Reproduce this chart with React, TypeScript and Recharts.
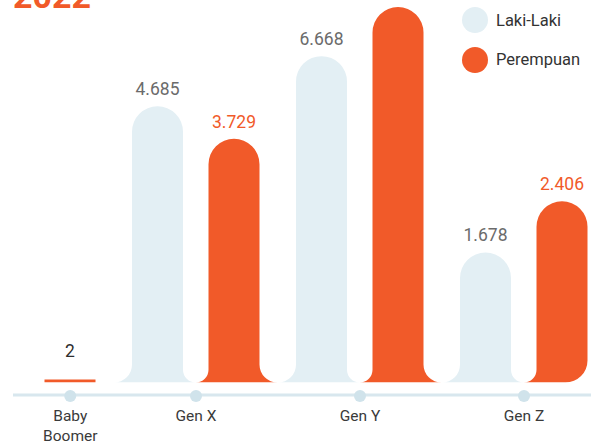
import React from 'react';
import { BarChart, Bar, XAxis, YAxis, Legend } from 'recharts';

// ---- data ----
const categories = ['Baby Boomer', 'Gen X', 'Gen Y', 'Gen Z'];
const lakiLaki: (number | null)[] = [null, 4685, 6668, 1678];
const perempuan: number[] = [2, 3729, 9420, 2406];
const seriesNames = ['Laki-Laki', 'Perempuan'];
const titleText = '2022';

const data = categories.map((c, i) => ({ name: c, laki: lakiLaki[i], per: perempuan[i] }));

// ---- styles ----
const BLUE = '#e3eff4';
const ORANGE = '#f15a29';
const AXIS = '#d8e7ee';
const DOT = '#d0e3eb';
const GREY_LABEL = '#6b6b6b';
const DARK = '#2e2e2e';
const FONT = 'Roboto, "Noto Sans", sans-serif';
const BAR_SIZE = 51;
const BAR_GAP = 25.5;
const INNER_FILLET = 12.75;
const OUTER_FILLET = 18;
const END_RADIUS = 22;
const MIN_H = 3;

const fmt = (v: number) => String(v).replace(/\B(?=(\d{3})+(?!\d))/g, '.');

type Side = { kind: 'flare' | 'round'; r: number };

function pillPath(xl: number, xr: number, top: number, b: number, left: Side, right: Side) {
  const r = (xr - xl) / 2;
  let d = '';
  if (left.kind === 'flare') {
    d += `M${xl - left.r},${b} A${left.r},${left.r} 0 0 0 ${xl},${b - left.r} `;
  } else {
    d += `M${xl + left.r},${b} A${left.r},${left.r} 0 0 1 ${xl},${b - left.r} `;
  }
  d += `L${xl},${top + r} A${r},${r} 0 0 1 ${xr},${top + r} `;
  if (right.kind === 'flare') {
    d += `L${xr},${b - right.r} A${right.r},${right.r} 0 0 0 ${xr + right.r},${b} `;
  } else {
    d += `L${xr},${b - right.r} A${right.r},${right.r} 0 0 1 ${xr - right.r},${b} `;
  }
  return d + 'Z';
}

function makeShape(key: 'laki' | 'per', color: string, labelColor: string) {
  return (props: any) => {
    const { x, y, width, height, index, background, payload } = props;
    const raw = payload ? payload[key] : null;
    if (raw == null || !isFinite(x) || !isFinite(y)) return <g />;
    const base =
      background && isFinite(background.height) && background.height > 0
        ? background.y + background.height
        : y + height;
    const h = base - y;
    const cx = x + width / 2;
    const small = !(h > BAR_SIZE);
    const top = small ? base - MIN_H : y;
    const isLast = index === categories.length - 1;
    let shape;
    if (small) {
      shape = <rect x={x} y={top} width={width} height={MIN_H} fill={color} />;
    } else {
      const left: Side =
        key === 'laki' ? { kind: 'flare', r: OUTER_FILLET } : { kind: 'flare', r: INNER_FILLET };
      const right: Side =
        key === 'laki'
          ? { kind: 'flare', r: INNER_FILLET }
          : isLast
          ? { kind: 'round', r: END_RADIUS }
          : { kind: 'flare', r: OUTER_FILLET };
      shape = <path d={pillPath(x, x + width, top, base, left, right)} fill={color} />;
    }
    const labelY = Math.min(top, base - 15) - 11;
    return (
      <g>
        {shape}
        <text
          x={cx}
          y={labelY}
          textAnchor="middle"
          fontFamily={FONT}
          fontSize={17.5}
          fill={small ? DARK : labelColor}
        >
          {fmt(raw)}
        </text>
      </g>
    );
  };
}

const GenTick = (props: any) => {
  const { x, y, payload, index } = props;
  const i = typeof index === 'number' ? index : categories.indexOf(payload.value);
  const shift = lakiLaki[i] == null ? (BAR_SIZE + BAR_GAP) / 2 : 0;
  const cx = x + shift;
  const label = String(payload.value);
  const lines = label.length > 8 ? label.split(' ') : [label];
  return (
    <g>
      <circle cx={cx} cy={y + 13.5} r={6} fill={DOT} />
      <text textAnchor="middle" fontFamily={FONT} fontSize={15.5} fill="#3a3a3a">
        {lines.map((ln, k) => (
          <tspan key={k} x={cx} y={y + 38.5 + k * 19.5}>
            {ln}
          </tspan>
        ))}
      </text>
    </g>
  );
};

const renderLegend = (props: any) => {
  const payload = props.payload || [];
  return (
    <div style={{ display: 'flex', flexDirection: 'column', gap: 13.5 }}>
      {payload.map((p: any, k: number) => (
        <div key={k} style={{ display: 'flex', alignItems: 'center', height: 26 }}>
          <span
            style={{
              display: 'inline-block',
              width: 26,
              height: 26,
              borderRadius: 13,
              background: p.color,
            }}
          />
          <span style={{ marginLeft: 8, fontSize: 16.5, color: '#333', fontFamily: FONT }}>
            {p.value}
          </span>
        </div>
      ))}
    </div>
  );
};

export default function App() {
  return (
    <div style={{ position: 'absolute', left: 0, top: 0, width: 591, height: 445, overflow: 'hidden', background: '#fff' }}>
      <div
        style={{
          position: 'absolute',
          left: 13,
          top: -21,
          fontFamily: FONT,
          fontWeight: 700,
          fontSize: 34,
          lineHeight: '34px',
          color: ORANGE,
        }}
      >
        {titleText}
      </div>
      <div style={{ position: 'absolute', left: 13, top: 0 }}>
        <BarChart
          width={578}
          height={445}
          data={data}
          margin={{ top: -1.55, right: -15, bottom: 2.5, left: -63 }}
          barSize={BAR_SIZE}
          barGap={BAR_GAP}
        >
          <XAxis
            dataKey="name"
            height={60}
            interval={0}
            tickSize={0}
            tickMargin={0}
            tickLine={false}
            axisLine={{ stroke: AXIS, strokeWidth: 3, transform: 'translate(0 12.5)' } as any}
            tick={<GenTick />}
          />
          <YAxis hide scale="log" domain={[673, 10000]} allowDataOverflow type="number" />
          <Legend
            layout="horizontal"
            verticalAlign="middle"
            align="center"
            content={renderLegend}
            wrapperStyle={{ top: 7, left: 449, width: 140, height: 80 }}
          />
          <Bar
            dataKey="laki"
            name={seriesNames[0]}
            fill={BLUE}
            isAnimationActive={false}
            shape={makeShape('laki', BLUE, GREY_LABEL)}
          />
          <Bar
            dataKey="per"
            name={seriesNames[1]}
            fill={ORANGE}
            isAnimationActive={false}
            shape={makeShape('per', ORANGE, ORANGE)}
          />
        </BarChart>
      </div>
    </div>
  );
}
